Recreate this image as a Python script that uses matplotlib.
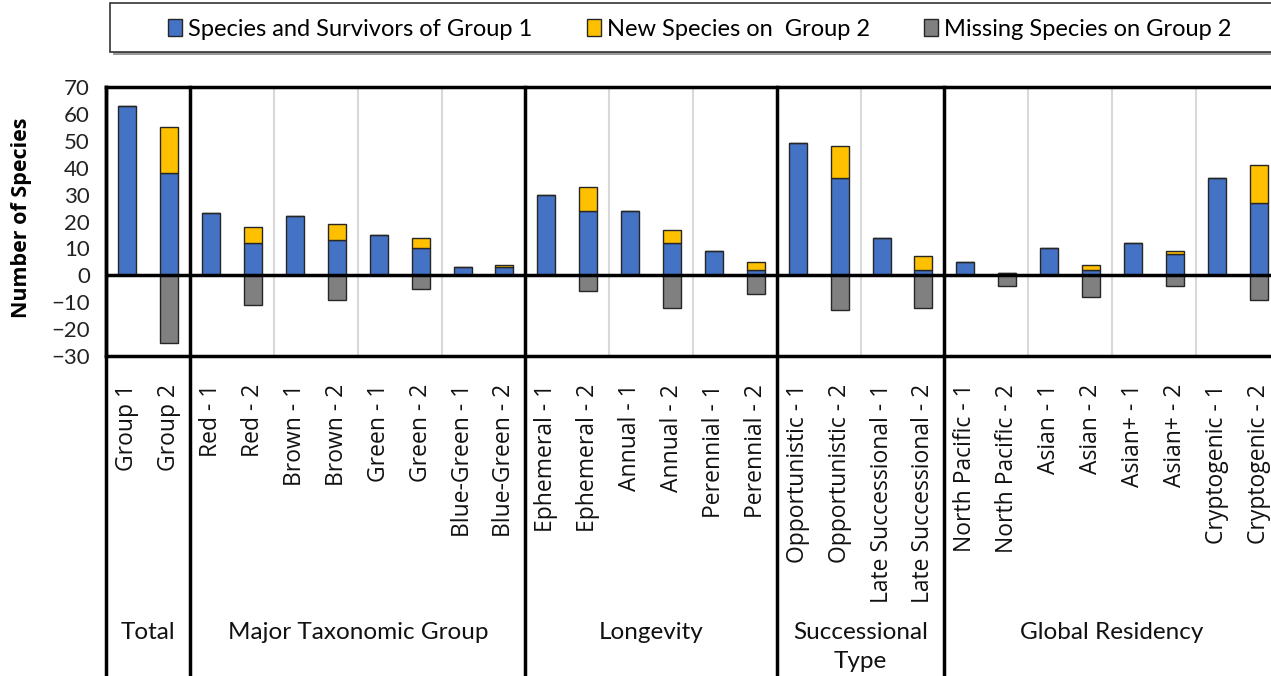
import matplotlib.pyplot as plt
from matplotlib.patches import Patch, Rectangle

# categories along the x axis
labels = ['Group 1', 'Group 2',
          'Red - 1', 'Red - 2', 'Brown - 1', 'Brown - 2', 'Green - 1', 'Green - 2',
          'Blue-Green - 1', 'Blue-Green - 2',
          'Ephemeral - 1', 'Ephemeral - 2', 'Annual - 1', 'Annual - 2',
          'Perennial - 1', 'Perennial - 2',
          'Opportunistic - 1', 'Opportunistic - 2', 'Late Successional - 1', 'Late Successional - 2',
          'North Pacific - 1', 'North Pacific - 2', 'Asian - 1', 'Asian - 2',
          'Asian+ - 1', 'Asian+ - 2', 'Cryptogenic - 1', 'Cryptogenic - 2']

survivors = [63, 38, 23, 12, 22, 13, 15, 10, 3, 3,
             30, 24, 24, 12, 9, 2,
             49, 36, 14, 2,
             5, 1, 10, 2, 12, 8, 36, 27]
new_species = [0, 17, 0, 6, 0, 6, 0, 4, 0, 1,
               0, 9, 0, 5, 0, 3,
               0, 12, 0, 5,
               0, 0, 0, 2, 0, 1, 0, 14]
missing = [0, -25, 0, -11, 0, -9, 0, -5, 0, 0,
           0, -6, 0, -12, 0, -7,
           0, -13, 0, -12,
           0, -4, 0, -8, 0, -4, 0, -9]

groups = ['Total', 'Major Taxonomic Group', 'Longevity', 'Successional\nType', 'Global Residency']
group_sizes = [2, 8, 6, 4, 8]

legend_labels = ['Species and Survivors of Group 1', 'New Species on  Group 2',
                 'Missing Species on Group 2']

blue = '#4472C4'
yellow = '#FFC000'
grey = '#808080'

W, H = 1271, 676
fig = plt.figure(figsize=(W/100, H/100), dpi=100)
ax = fig.add_axes([106.5/W, 1-356/H, 1173/W, 269/H])

x = list(range(len(labels)))
bw = 0.43
ax.bar(x, survivors, bw, color=blue, edgecolor='#262626', linewidth=1, zorder=3)
ax.bar(x, new_species, bw, bottom=survivors, color=yellow, edgecolor='#262626', linewidth=1, zorder=3)
ax.bar(x, missing, bw, color=grey, edgecolor='#262626', linewidth=1, zorder=3)

ax.set_xlim(-0.5, len(labels)-0.5)
ax.set_ylim(-30, 70)
ax.set_yticks(range(-30, 71, 10))
ax.axhline(0, color='black', lw=2.5, zorder=4)

for s in ax.spines.values():
    s.set_linewidth(2.5)
    s.set_color('black')

ax.tick_params(axis='y', length=0, pad=12, labelsize=16)
for t in ax.get_yticklabels():
    t.set_fontfamily('Lato')
    t.set_color('#222222')

ax.set_xticks(x)
ax.set_xticklabels(labels, rotation=90, fontsize=16.5, family='Open Sans', color='#111111')
ax.tick_params(axis='x', length=0, pad=20)

# group dividers and pair lines
start = 0
for name, n in zip(groups, group_sizes):
    if start > 0:
        ax.axvline(start - 0.5, ymin=-1.3, ymax=1, color='black', lw=2.5, clip_on=False, zorder=5)
    for k in range(2, n, 2):
        ax.axvline(start + k - 0.5, color='#d9d9d9', lw=1.5, zorder=1)
    ax.text(start + (n - 1) / 2, -0.99, name, transform=ax.get_xaxis_transform(),
            ha='center', va='top', fontsize=17.5, family='Lato', linespacing=1.45, color='#111111')
    start += n
ax.axvline(-0.5, ymin=-1.3, ymax=1, color='black', lw=2.5, clip_on=False, zorder=5)

fig.text(22/W, 1-218/H, 'Number of Species', rotation=90, ha='center', va='center',
         fontsize=15.5, fontweight='bold', family='Open Sans')

# legend box with shadow
fig.add_artist(Rectangle((113/W, 1-55/H), 1200/W, 49/H, transform=fig.transFigure,
                         facecolor='#9a9a9a', edgecolor='none'))
fig.add_artist(Rectangle((110/W, 1-52/H), 1200/W, 49/H, transform=fig.transFigure,
                         facecolor='white', edgecolor='#333333', lw=1.2))
handles = [Patch(facecolor=c, edgecolor='#262626', lw=1) for c in (blue, yellow, grey)]
fig.legend(handles, legend_labels, loc='center', bbox_to_anchor=(700/W, 1-29/H), ncol=3,
           frameon=False, handlelength=0.6, handleheight=0.7, handletextpad=0.25,
           columnspacing=2.3, prop={'family': 'Lato', 'size': 17})

fig.savefig('out.png', dpi=100)
